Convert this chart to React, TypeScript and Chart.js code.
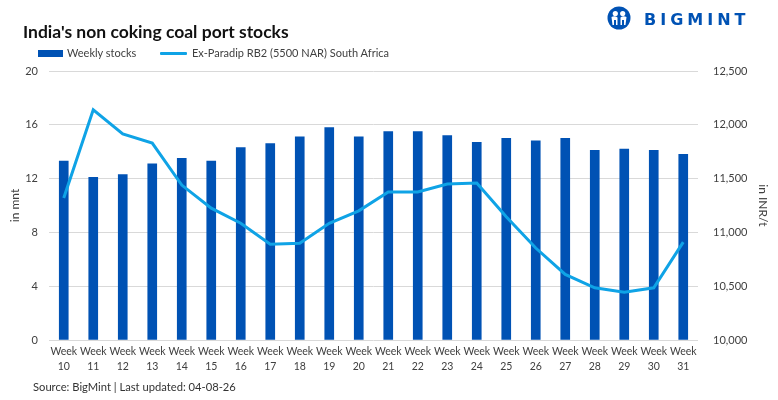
import React, { useEffect, useRef } from "react";
import { Chart, registerables } from "chart.js";

Chart.register(...registerables);

const weeks = ["10","11","12","13","14","15","16","17","18","19","20","21","22","23","24","25","26","27","28","29","30","31"];
const categories = weeks.map((w) => ["Week", w]);
const stockLabel = "Weekly stocks";
const priceLabel = "Ex-Paradip RB2 (5500 NAR) South Africa";
const stocks = [13.3, 12.1, 12.3, 13.1, 13.5, 13.3, 14.3, 14.6, 15.1, 15.8, 15.1, 15.5, 15.5, 15.2, 14.7, 15.0, 14.8, 15.0, 14.1, 14.2, 14.1, 13.8];
const prices = [11320, 12140, 11915, 11830, 11440, 11225, 11085, 10890, 10900, 11085, 11200, 11375, 11375, 11450, 11460, 11145, 10855, 10610, 10485, 10445, 10485, 10910];
const leftTicks = { min: 0, max: 20, step: 4 };
const rightTicks = { min: 10000, max: 12500, step: 500 };

const BAR_COLOR = "#0052B4";
const LINE_COLOR = "#0FA3E6";
const TEXT_COLOR = "#404040";
const FONT = "Lato, 'Noto Sans', sans-serif";

export default function App() {
  const ref = useRef<HTMLCanvasElement | null>(null);

  useEffect(() => {
    if (!ref.current) return;
    const chart = new Chart(ref.current, {
      type: "bar",
      data: {
        labels: categories,
        datasets: [
          {
            type: "line",
            label: priceLabel,
            data: prices,
            yAxisID: "y1",
            borderColor: LINE_COLOR,
            backgroundColor: LINE_COLOR,
            borderWidth: 3,
            pointRadius: 0,
            tension: 0,
            order: 0,
          },
          {
            type: "bar",
            label: stockLabel,
            data: stocks,
            yAxisID: "y",
            backgroundColor: BAR_COLOR,
            barThickness: 9,
            order: 1,
          },
        ],
      },
      options: {
        animation: false,
        responsive: true,
        maintainAspectRatio: false,
        layout: { padding: { top: 71, bottom: 25, left: 0, right: 0 } },
        plugins: {
          legend: { display: false },
          tooltip: { enabled: false },
          title: { display: false },
        },
        scales: {
          x: {
            offset: true,
            grid: { display: false, drawTicks: false },
            border: { display: false },
            ticks: {
              color: TEXT_COLOR,
              padding: 5,
              maxRotation: 0,
              autoSkip: false,
              font: { family: FONT, size: 10.5, lineHeight: 1.35 },
            },
            afterFit: (s: any) => { s.height = 35; },
          },
          y: {
            position: "left",
            min: leftTicks.min,
            max: leftTicks.max,
            ticks: {
              stepSize: leftTicks.step,
              color: TEXT_COLOR,
              padding: 11,
              font: { family: FONT, size: 11 },
            },
            grid: { color: "#D9D9D9", drawTicks: false, lineWidth: 1 },
            border: { display: false },
            title: {
              display: true,
              text: "in mnt",
              color: TEXT_COLOR,
              padding: { top: 8, bottom: 4 },
              font: { family: FONT, size: 12 },
            },
            afterFit: (s: any) => { s.width = 49; },
          },
          y1: {
            position: "right",
            min: rightTicks.min,
            max: rightTicks.max,
            ticks: {
              stepSize: rightTicks.step,
              color: TEXT_COLOR,
              padding: 15,
              font: { family: FONT, size: 11 },
              callback: (v: any) => Number(v).toLocaleString("en-US"),
            },
            grid: { display: false, drawTicks: false },
            border: { display: false },
            title: {
              display: true,
              text: "in INR/t",
              color: TEXT_COLOR,
              padding: { top: 8, bottom: 4 },
              font: { family: FONT, size: 12 },
            },
            afterFit: (s: any) => { s.width = 80; },
          },
        },
      },
    });
    return () => chart.destroy();
  }, []);

  return (
    <div style={{ position: "absolute", left: 0, top: 0, width: 778, height: 400, background: "#fff", fontFamily: FONT }}>
      <div style={{ position: "absolute", left: 0, top: 0, width: 778, height: 400 }}>
        <canvas ref={ref} />
      </div>
      <div style={{ position: "absolute", left: 23, top: 21, fontSize: 17.5, fontWeight: 700, lineHeight: "22px", color: "#111", whiteSpace: "nowrap" }}>
        India's non coking coal port stocks
      </div>
      <div style={{ position: "absolute", left: 38, top: 50, width: 25, height: 7, background: BAR_COLOR }} />
      <div style={{ position: "absolute", left: 67, top: 45, fontSize: 11, lineHeight: "16px", color: TEXT_COLOR, whiteSpace: "nowrap" }}>{stockLabel}</div>
      <div style={{ position: "absolute", left: 160, top: 52, width: 27, height: 3, background: LINE_COLOR, borderRadius: 1 }} />
      <div style={{ position: "absolute", left: 192, top: 45, fontSize: 11, lineHeight: "16px", color: TEXT_COLOR, whiteSpace: "nowrap" }}>{priceLabel}</div>
      <div style={{ position: "absolute", left: 33, top: 379, fontSize: 11.2, lineHeight: "16px", color: "#333", whiteSpace: "nowrap" }}>
        Source: BigMint | Last updated: 04-08-26
      </div>
      <svg style={{ position: "absolute", left: 607, top: 6 }} width={24} height={24} viewBox="0 0 24 24">
        <circle cx="12" cy="12" r="11.5" fill={BAR_COLOR} />
        <circle cx="8.3" cy="7.5" r="2.6" fill="#fff" />
        <circle cx="15.7" cy="7.5" r="2.6" fill="#fff" />
        <path d="M4.5 11 Q8 9.5 10.5 11.5 L10.5 19 L9 19 L9 14 L7 14 L7 19 L5.5 19 Z" fill="#fff" />
        <path d="M19.5 11 Q16 9.5 13.5 11.5 L13.5 19 L15 19 L15 14 L17 14 L17 19 L18.5 19 Z" fill="#fff" />
      </svg>
      <div style={{ position: "absolute", left: 644, top: 10, fontSize: 16, fontWeight: 700, lineHeight: "20px", letterSpacing: 4, color: BAR_COLOR, fontFamily: "'DejaVu Sans', sans-serif", whiteSpace: "nowrap" }}>
        BIGMINT
      </div>
    </div>
  );
}
